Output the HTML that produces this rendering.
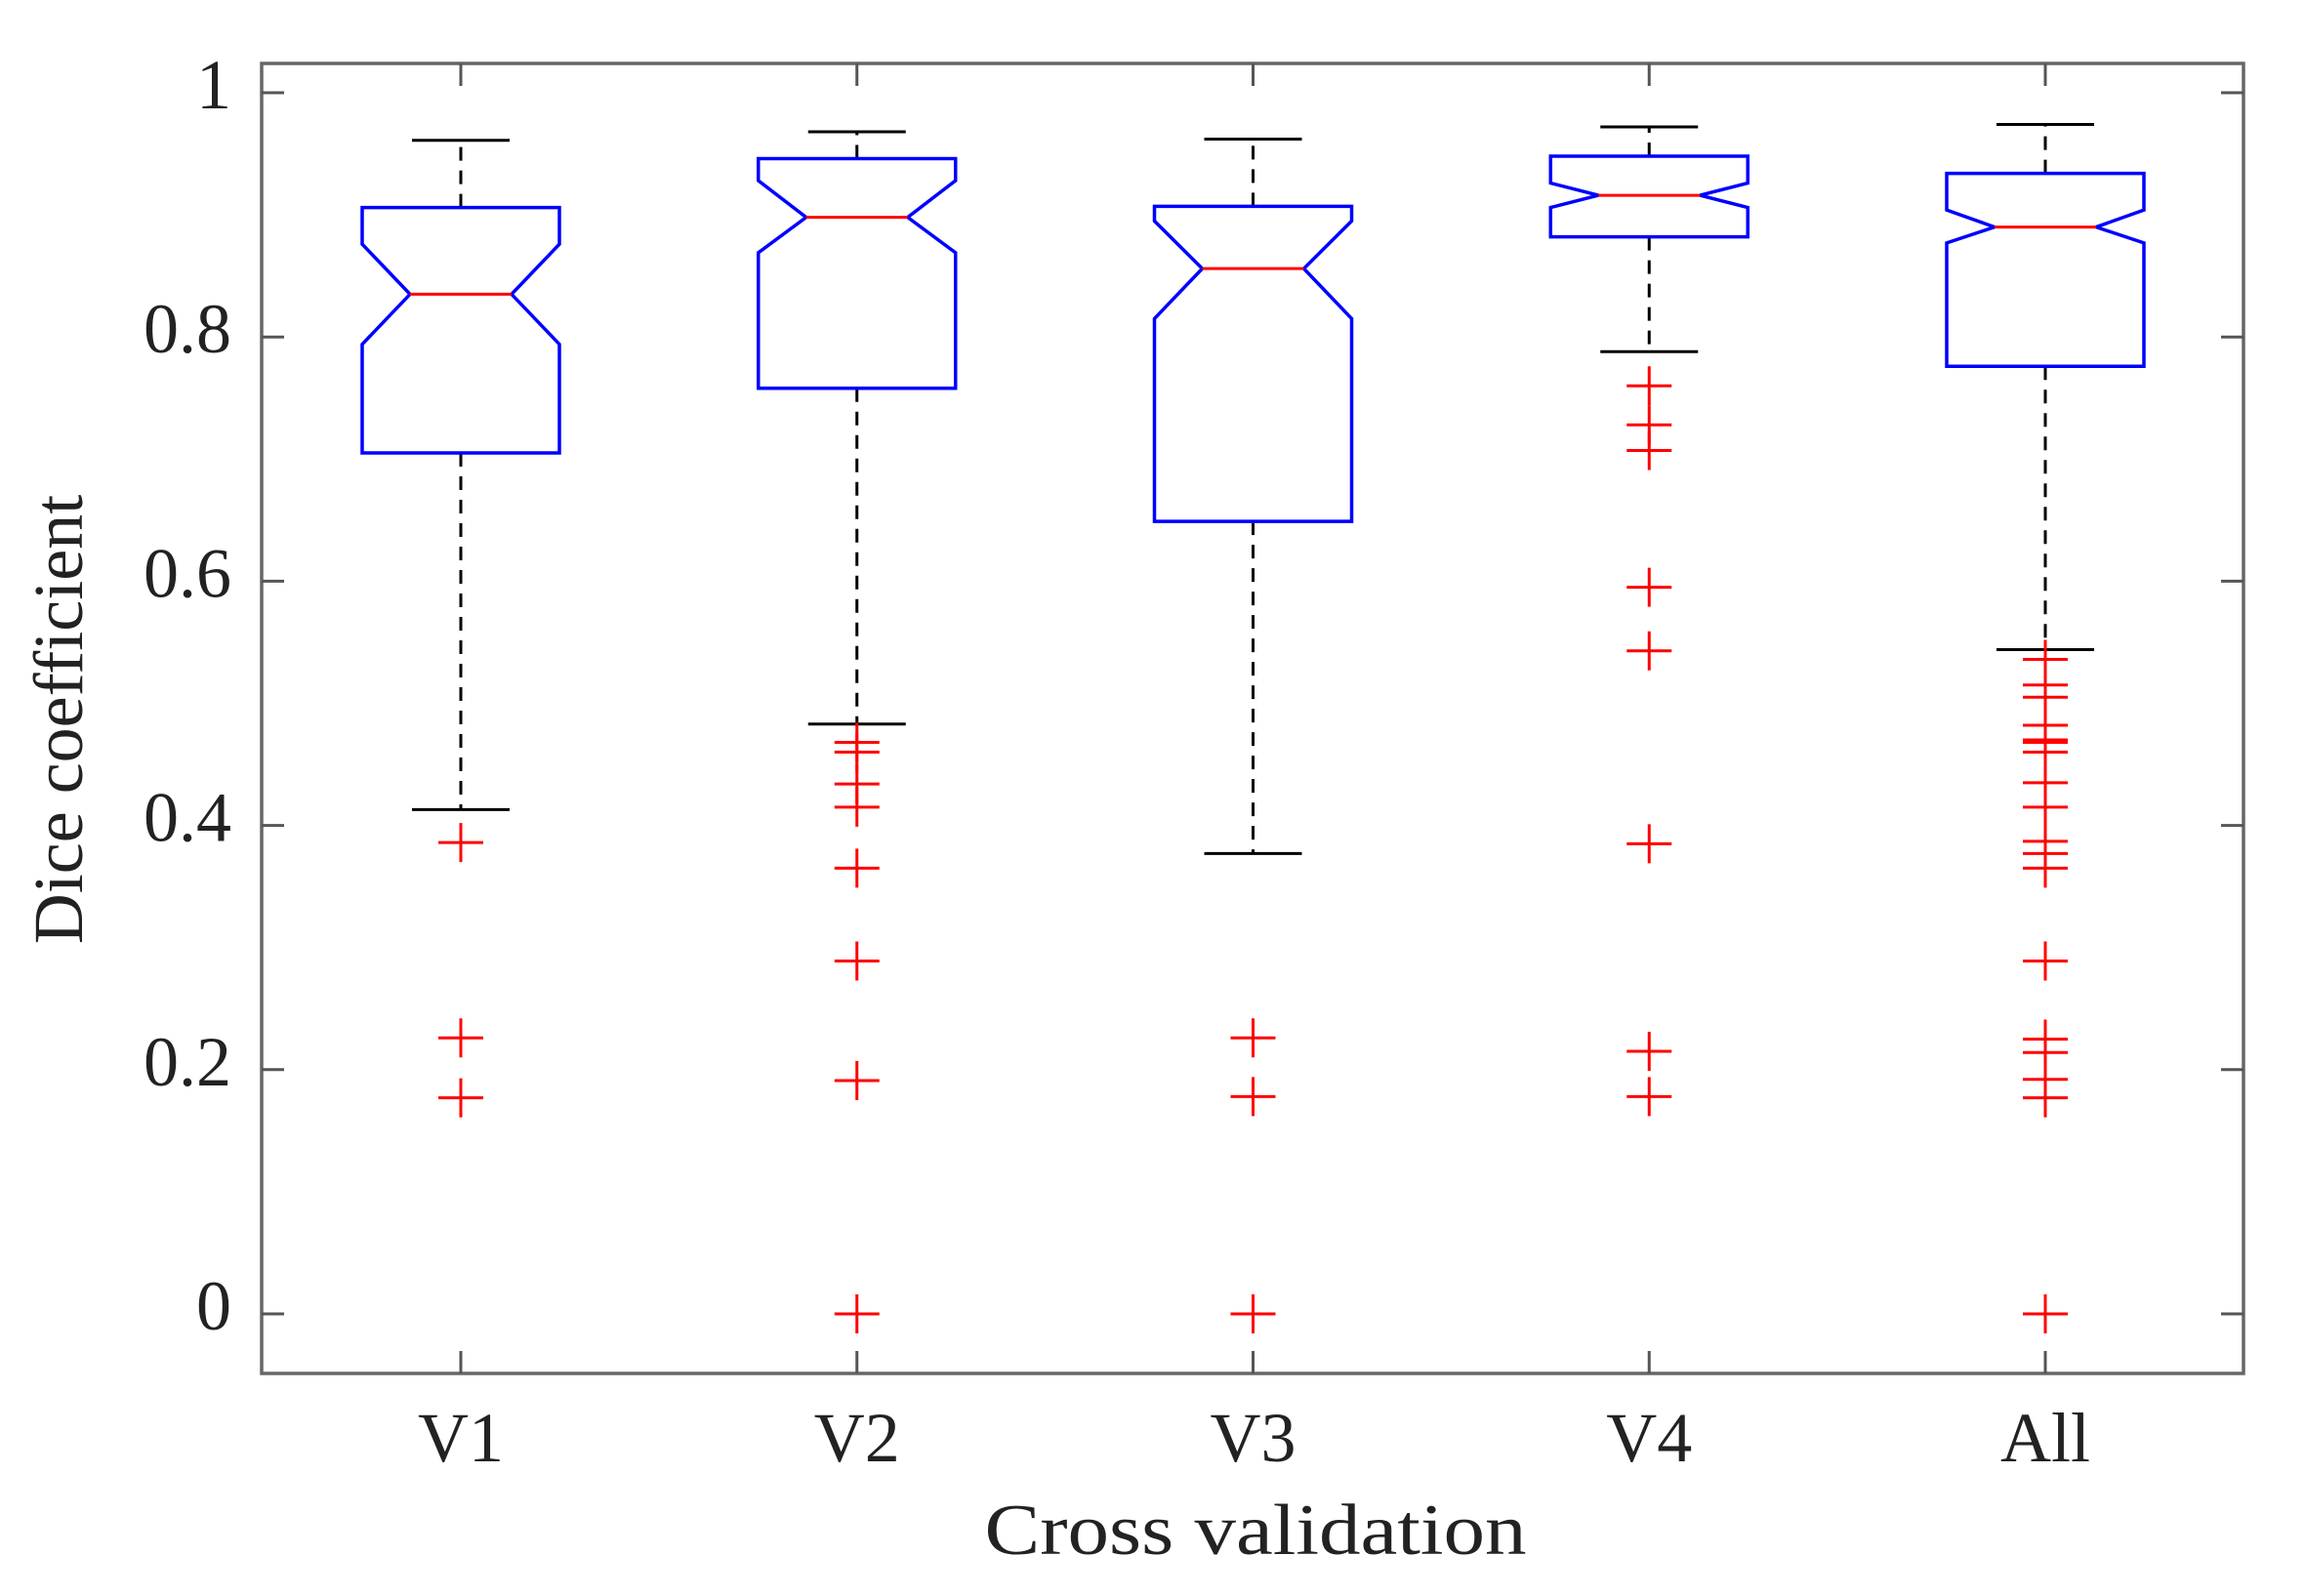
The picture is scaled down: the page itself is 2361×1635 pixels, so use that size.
<!DOCTYPE html>
<html><head><meta charset="utf-8"><style>
html,body{margin:0;padding:0;background:#fff;}
svg{display:block;}
text{font-family:"Liberation Serif",serif;fill:#222;}
</style></head><body>
<svg id="chart" width="2361" height="1635" viewBox="0 0 2361 1635" xmlns="http://www.w3.org/2000/svg">
<g id="plot"></g>
</svg>
<script>
const categories = ["V1","V2","V3","V4","All"];
const whiskerHigh = [0.961, 0.968, 0.962, 0.972, 0.974];
const q3 = [0.906, 0.946, 0.907, 0.948, 0.934];
const notchHigh = [0.876, 0.928, 0.895, 0.926, 0.904];
const median = [0.835, 0.898, 0.856, 0.916, 0.890];
const notchLow = [0.794, 0.869, 0.815, 0.906, 0.877];
const q1 = [0.705, 0.758, 0.649, 0.882, 0.776];
const whiskerLow = [0.413, 0.483, 0.377, 0.788, 0.544];
const outliers = [
  [0.386, 0.226, 0.177],
  [0.468, 0.460, 0.434, 0.415, 0.365, 0.289, 0.191, 0.0],
  [0.226, 0.178, 0.0],
  [0.760, 0.728, 0.707, 0.595, 0.543, 0.385, 0.215, 0.178],
  [0.536, 0.515, 0.505, 0.482, 0.470, 0.468, 0.460, 0.435, 0.415, 0.387, 0.377, 0.365, 0.289, 0.225, 0.214, 0.192, 0.177, 0.0]
];
const yTicks = [0, 0.2, 0.4, 0.6, 0.8, 1];
const yTickLabels = ["0","0.2","0.4","0.6","0.8","1"];

const NS = "http://www.w3.org/2000/svg";
const L = 268, R = 2298, T = 65, B = 1407;
const Y0 = 1346, UNIT = 1251;
const X0 = 472, STEP = 405.75;
function yScale(v){ return Y0 - v * UNIT; }
function xScale(i){ return X0 + i * STEP; }
const plot = document.getElementById('plot');
function mk(tag, attrs, parent){
  const e = document.createElementNS(NS, tag);
  for (const k in attrs) e.setAttribute(k, attrs[k]);
  (parent || plot).appendChild(e);
  return e;
}

const frame = mk('rect', {x:L, y:T, width:R-L, height:B-T, fill:'none', stroke:'#666', 'stroke-width':3.5});



yTicks.forEach((v, i) => {
  const y = yScale(v);
  const t1 = mk('line', {x1:L, x2:L+23, y1:y, y2:y, stroke:'#555', 'stroke-width':3});
  
  
  const t2 = mk('line', {x1:R-23, x2:R, y1:y, y2:y, stroke:'#555', 'stroke-width':3});
  
  
  const lb = mk('text', {x:237, y:y+16, 'text-anchor':'end', 'font-size':72});
  lb.textContent = yTickLabels[i];
  
  
});

categories.forEach((c, i) => {
  const x = xScale(i);
  const t1 = mk('line', {x1:x, x2:x, y1:B, y2:B-23, stroke:'#555', 'stroke-width':3});
  
  
  const t2 = mk('line', {x1:x, x2:x, y1:T, y2:T+23, stroke:'#555', 'stroke-width':3});
  
  
  const lb = mk('text', {x:x, y:1497, 'text-anchor':'middle', 'font-size':72});
  lb.textContent = c;
  
  
});

const BW = 101, NW = 52, CW = 50, PH = 23, PV = 20;
categories.forEach((c, i) => {
  const x = xScale(i);
  const g = mk('g', {});
  
  
  const wu = mk('line', {x1:x, x2:x, y1:yScale(q3[i]), y2:yScale(whiskerHigh[i]), stroke:'#000', 'stroke-width':3, 'stroke-dasharray':'14,10'}, g);
  
  
  const wl = mk('line', {x1:x, x2:x, y1:yScale(q1[i]), y2:yScale(whiskerLow[i]), stroke:'#000', 'stroke-width':3, 'stroke-dasharray':'14,10'}, g);
  
  
  const cu = mk('line', {x1:x-CW, x2:x+CW, y1:yScale(whiskerHigh[i]), y2:yScale(whiskerHigh[i]), stroke:'#000', 'stroke-width':3}, g);
  
  
  const cl = mk('line', {x1:x-CW, x2:x+CW, y1:yScale(whiskerLow[i]), y2:yScale(whiskerLow[i]), stroke:'#000', 'stroke-width':3}, g);
  
  
  const pts = [
    [x-BW, yScale(q3[i])], [x+BW, yScale(q3[i])], [x+BW, yScale(notchHigh[i])],
    [x+NW, yScale(median[i])], [x+BW, yScale(notchLow[i])], [x+BW, yScale(q1[i])],
    [x-BW, yScale(q1[i])], [x-BW, yScale(notchLow[i])], [x-NW, yScale(median[i])],
    [x-BW, yScale(notchHigh[i])]
  ];
  const box = mk('polygon', {points: pts.map(p => p.join(',')).join(' '), fill:'#fff', stroke:'#0000ff', 'stroke-width':3.5}, g);
  
  
  const md = mk('line', {x1:x-NW, x2:x+NW, y1:yScale(median[i]), y2:yScale(median[i]), stroke:'#ff0000', 'stroke-width':3}, g);
  
  
  outliers[i].forEach(v => {
    const y = yScale(v);
    const p = mk('path', {d:`M${x-PH},${y}H${x+PH}M${x},${y-PV}V${y+PV}`, stroke:'#ff0000', 'stroke-width':3, fill:'none'}, g);
    
    
  });
});

const xt = mk('text', {x:1286, y:1592, 'text-anchor':'middle', 'font-size':74, textLength:555, lengthAdjust:'spacingAndGlyphs'});
xt.textContent = 'Cross validation';


const yt = mk('text', {x:0, y:0, 'text-anchor':'middle', 'font-size':72, transform:'translate(84,737) rotate(-90)'});
yt.textContent = 'Dice coefficient';


</script>
</body></html>
